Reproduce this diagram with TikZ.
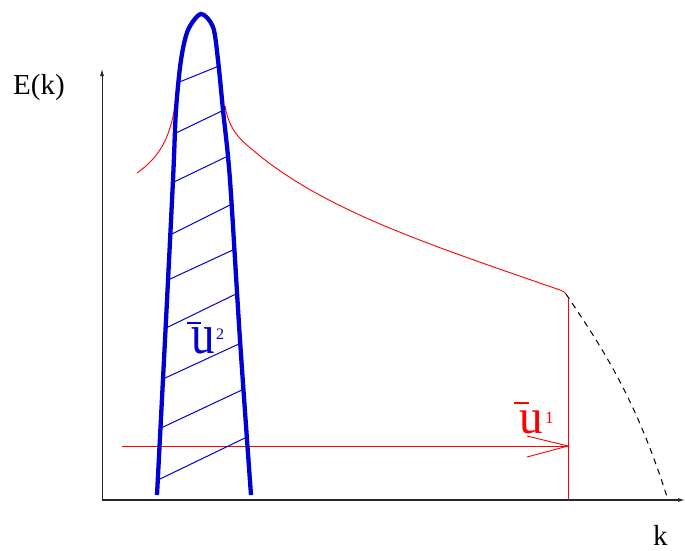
\documentclass[tikz,border=0pt]{standalone}
\usepackage{fontspec}
\setmainfont{Liberation Serif}
\usetikzlibrary{arrows.meta}
\definecolor{myblue}{RGB}{0,0,210}
\definecolor{myred}{RGB}{255,0,0}
\begin{document}
\begin{tikzpicture}[x=1pt,y=-1pt,
  axisline/.style={draw=black!85,line width=1.1pt},
  bluethick/.style={draw=myblue,line width=4.3pt},
  hatchline/.style={draw=myblue,line width=1pt},
  redline/.style={draw=myred,line width=0.9pt},
  dashline/.style={draw=black,line width=1pt,dash pattern=on 6pt off 5pt},
  lbl/.style={inner sep=0pt,anchor=base west},
  barline/.style={line width=2pt}]
\useasboundingbox (0,0) rectangle (685,551);
% axes
\coordinate (O) at (102,500);
\coordinate (ytop) at (102,69);
\coordinate (xend) at (685,500);
\draw[axisline,line width=0.9pt,-{Latex[length=7pt,width=4pt]}] (O) -- (ytop);
\draw[axisline,-{Latex[length=7pt,width=4pt]}] (O) -- (xend);
\node[lbl,font=\fontsize{29}{30}\selectfont] (Ek) at (13,94) {E(k)};
\node[lbl,font=\fontsize{29}{30}\selectfont] (klab) at (653,545) {k};
% red spectrum
\draw[redline] (137,173) .. controls (158,158) and (171,140) .. (176,98);
\draw[redline] (225,106) .. controls (230,135) and (245,143) .. (260,156)
  .. controls (330,212) and (430,245) .. (560,290)
  .. controls (563,291) and (565,292) .. (566,294);
\coordinate (knee) at (566,294);
\coordinate (kend) at (668,500);
\draw[dashline] (knee) .. controls (600,345) and (635,395) .. (kend);
\coordinate (vtop) at (568,298);
\coordinate (vbot) at (568,500);
\draw[redline] (vtop) -- (vbot);
% red arrow
\coordinate (astart) at (122,446);
\coordinate (atip) at (568,446);
\coordinate (abarb1) at (527,436);
\coordinate (abarb2) at (527,457);
\draw[redline] (astart) -- (atip);
\draw[redline] (abarb1) -- (atip) -- (abarb2);
% hatching
\draw[hatchline] (177,83) -- (219,66);
\draw[hatchline] (176,133) -- (226,109);
\draw[hatchline] (174,182) -- (228,156);
\draw[hatchline] (170,235) -- (232,204);
\draw[hatchline] (168,280) -- (235,249);
\draw[hatchline] (166,328) -- (238,293);
\draw[hatchline] (163,379) -- (241,343);
\draw[hatchline] (161,428) -- (244,389);
\draw[hatchline] (160,479) -- (247,437);
% blue curve
\draw[bluethick] plot[smooth] coordinates {(157,495) (165,340) (173,180) (176,110) (181,60) (188,30) (201,14) (213,27) (218,60) (223,110) (230,180) (240,340) (251,495)};
% labels
\node[lbl,text=myblue,font=\fontsize{47}{48}\selectfont] (u2) at (191,353) {\scalebox{1}[1.2]{u}};
\draw[myblue,barline] (187,323) -- (201,323);
\node[lbl,text=myblue,font=\fontsize{16}{17}\selectfont] (s2) at (216,339) {2};
\node[lbl,text=myred,font=\fontsize{47}{48}\selectfont] (u1) at (519,433) {\scalebox{1}[1.05]{u}};
\draw[myred,barline] (514,403) -- (529,403);
\node[lbl,text=myred,font=\fontsize{17}{18}\selectfont] (s1) at (545,423) {1};
\end{tikzpicture}
\end{document}
